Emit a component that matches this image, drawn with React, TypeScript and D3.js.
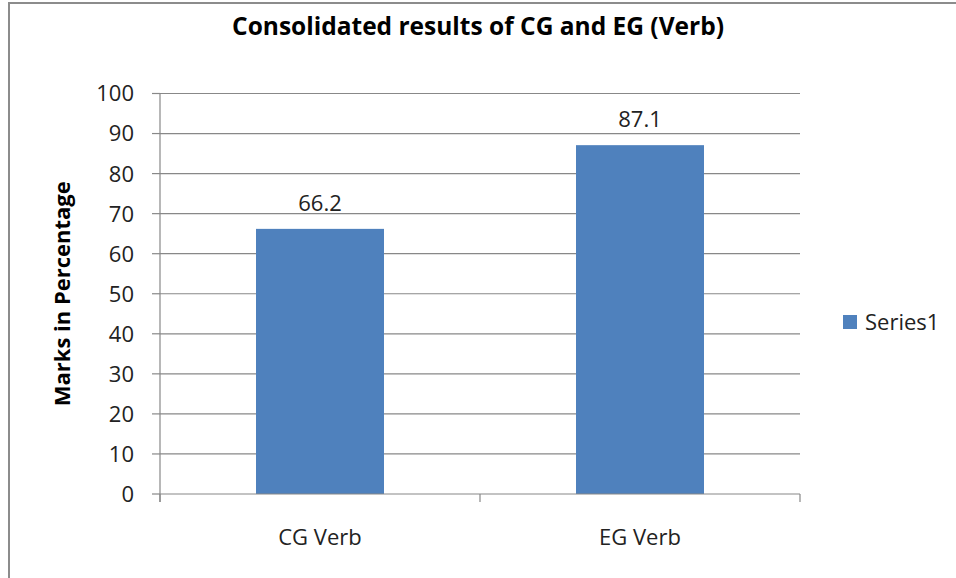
import React from "react";
import * as d3 from "d3";

const categories = ["CG Verb", "EG Verb"];
const values = [66.2, 87.1];
const yTicks = [0, 10, 20, 30, 40, 50, 60, 70, 80, 90, 100];
const seriesName = "Series1";
const title = "Consolidated results of CG and EG (Verb)";
const yTitle = "Marks in Percentage";

const W = 956;
const H = 578;
const FONT = "'Open Sans', 'Noto Sans', sans-serif";
const BAR = "#4f81bd";
const GRID = "#888888";

export default function App() {
  const x = d3.scaleBand<string>().domain(categories).range([160, 800]).paddingInner(0.6).paddingOuter(0.3);
  const band = d3.scaleBand<string>().domain(categories).range([160, 800]);
  const y = d3.scaleLinear().domain([0, 100]).range([494, 93.5]);

  return (
    <svg width={W} height={H} style={{ position: "absolute", left: 0, top: 0 }} fontFamily={FONT}>
      <rect x={0} y={0} width={W} height={H} fill="#fff" />
      <rect x={9} y={3} width={W + 20} height={H + 20} fill="none" stroke="#8c8c8c" strokeWidth={2} />
      <text x={478} y={35} textAnchor="middle" fontSize={24.5} fontWeight="bold" fill="#000">{title}</text>

      {yTicks.map((t) => (
        <g key={t}>
          {t > 0 && <line x1={160} x2={800} y1={y(t)} y2={y(t)} stroke={GRID} strokeWidth={1.2} />}
          <line x1={152} x2={160} y1={y(t)} y2={y(t)} stroke={GRID} strokeWidth={1.2} />
          <text x={134} y={y(t)} dy="0.36em" textAnchor="end" fontSize={22} fill="#222">{t}</text>
        </g>
      ))}

      {categories.map((c, i) => (
        <g key={c}>
          <rect x={x(c)} y={y(values[i])} width={x.bandwidth()} height={y(0) - y(values[i])} fill={BAR} />
          <text x={(x(c) as number) + x.bandwidth() / 2} y={y(values[i]) - 18} textAnchor="middle" fontSize={22} fill="#222">{values[i]}</text>
          <text x={(band(c) as number) + band.bandwidth() / 2} y={545} textAnchor="middle" fontSize={22} fill="#222">{c}</text>
        </g>
      ))}

      <line x1={160} x2={160} y1={y(100)} y2={y(0) + 8} stroke={GRID} strokeWidth={1.2} />
      <line x1={160} x2={800} y1={y(0)} y2={y(0)} stroke={GRID} strokeWidth={1.2} />
      {[160, 480, 800].map((tx) => (
        <line key={tx} x1={tx} x2={tx} y1={y(0)} y2={y(0) + 8} stroke={GRID} strokeWidth={1.2} />
      ))}

      <text transform={`translate(70,${(y(0) + y(100)) / 2}) rotate(-90)`} textAnchor="middle" fontSize={22} fontWeight="bold" fill="#000">{yTitle}</text>

      <rect x={843} y={315} width={14} height={14} fill={BAR} />
      <text x={865} y={330} fontSize={22} fill="#222">{seriesName}</text>
    </svg>
  );
}
